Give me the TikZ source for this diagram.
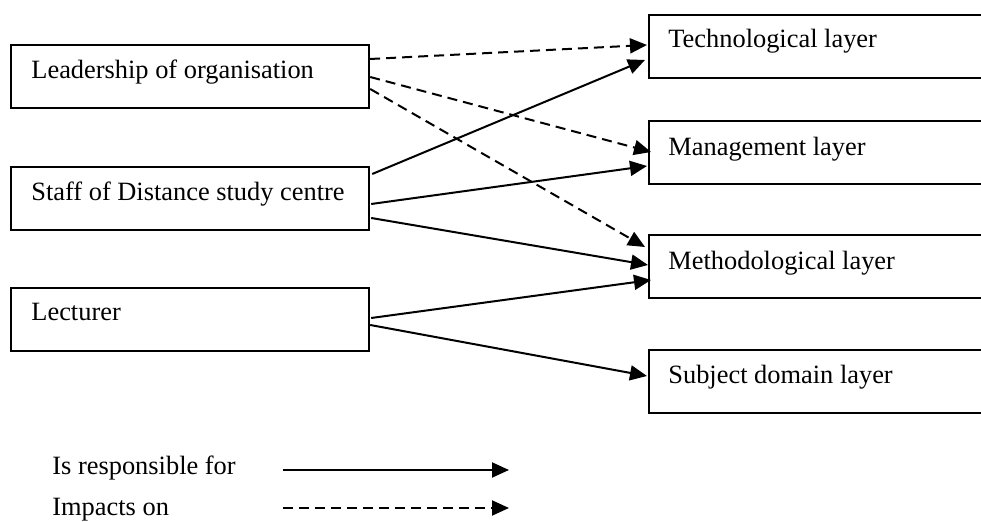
\documentclass[tikz,border=0pt]{standalone}
\usepackage{fontspec}
\setmainfont{Liberation Serif}
\usetikzlibrary{arrows.meta,calc}
\begin{document}
\begin{tikzpicture}[x=0.5pt,y=-0.5pt,
  box/.style={draw,line width=1.1pt,anchor=north west,inner sep=0pt,minimum height=31.5pt},
  lbox/.style={box,minimum width=179pt},
  rbox/.style={box,minimum width=175pt},
  lbl/.style={anchor=base west,inner sep=0pt,font=\fontsize{13.2pt}{15pt}\selectfont},
  resp/.style={line width=1pt,-{Triangle[length=8.5pt,width=7.5pt]}},
  impact/.style={resp,dash pattern=on 5pt off 3pt}
]
\clip (0,0) rectangle (981,522);
\fill[white] (0,0) rectangle (981,522);
% left boxes
\node[lbox] (lead) at (10,44) {};
\node[lbox] (staff) at (10,166) {};
\node[lbox] (lect) at (10,287) {};
\node[lbl] (leadt) at ($(lead.north west)+(21,35)$) {Leadership of organisation};
\node[lbl] (stafft) at ($(staff.north west)+(21,35)$) {Staff of Distance study centre};
\node[lbl] (lectt) at ($(lect.north west)+(21,34)$) {Lecturer};
% right boxes
\node[rbox] (tech) at (648,14) {};
\node[rbox] (mgmt) at (648,120) {};
\node[rbox] (meth) at (648,234) {};
\node[rbox] (subj) at (648,349) {};
\node[lbl] (techt) at ($(tech.north west)+(20,34)$) {Technological layer};
\node[lbl] (mgmtt) at ($(mgmt.north west)+(20,36)$) {Management layer};
\node[lbl] (metht) at ($(meth.north west)+(20,36)$) {Methodological layer};
\node[lbl] (subjt) at ($(subj.north west)+(20,35)$) {Subject domain layer};
% impacts (dashed)
\draw[impact] ($(lead.north east)+(0,15)$) -- ($(tech.north west)+(-1,31)$);
\draw[impact] ($(lead.north east)+(0,33)$) -- ($(mgmt.north west)+(3,32)$);
\draw[impact] ($(lead.north east)+(0,45)$) -- ($(meth.north west)+(-3,13)$);
% responsibilities (solid)
\draw[resp] ($(staff.north east)+(2,8)$) -- ($(tech.north west)+(-3,46)$);
\draw[resp] ($(staff.north east)+(1,38)$) -- ($(mgmt.north west)+(-1,46)$);
\draw[resp] ($(staff.north east)+(1,52)$) -- ($(meth.north west)+(0,31)$);
\draw[resp] ($(lect.north east)+(1,31)$) -- ($(meth.north west)+(3,46)$);
\draw[resp] ($(lect.north east)+(0,38)$) -- ($(subj.north west)+(-1,27)$);
% legend
\node[lbl] (lg1) at (52,475) {Is responsible for};
\node[lbl] (lg2) at (52,516) {Impacts on};
\coordinate (r1a) at (283,470);
\coordinate (r1b) at (509,470);
\coordinate (r2a) at (283,508);
\coordinate (r2b) at (509,508);
\draw[resp] (r1a) -- (r1b);
\draw[impact] (r2a) -- (r2b);
\end{tikzpicture}
\end{document}
